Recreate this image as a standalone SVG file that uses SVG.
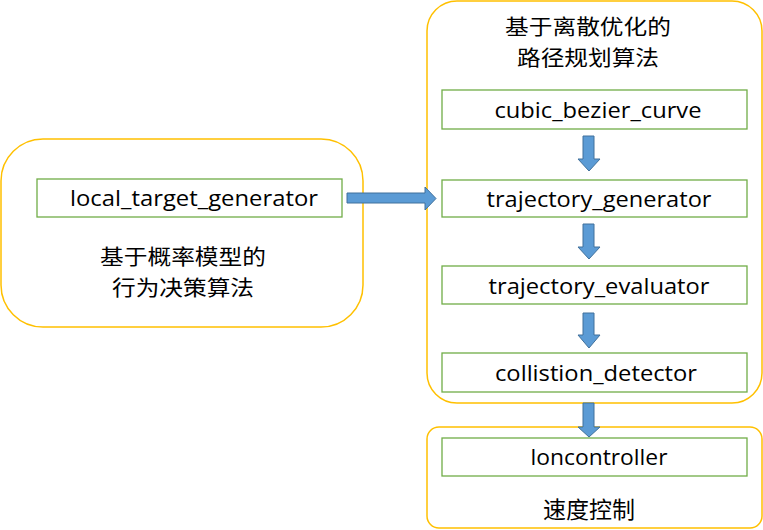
<svg xmlns="http://www.w3.org/2000/svg" width="763" height="530" viewBox="0 0 763 530">
<style>
.cont{fill:#fff;stroke:#FFC000;stroke-width:1.5}
.box{fill:#fff;stroke:#70AD47;stroke-width:1.3}
.lbl{font-family:"Open Sans","Liberation Sans",sans-serif;font-size:21px;fill:#000;text-anchor:middle}
.zh{font-family:"Noto Sans CJK SC",sans-serif;font-size:21px;fill:#000;text-anchor:middle}
.zhs{font-family:"Noto Sans CJK SC",sans-serif;font-size:23px;fill:#000;text-anchor:middle}
.arr{fill:#5B9BD5;stroke:#41719C;stroke-width:1}
</style>
<rect width="763" height="530" fill="#fff"/>
<g id="left-group">
<rect class="cont" x="1" y="139" width="362" height="188" rx="42"/>
<text class="zh" x="183" y="263.5" textLength="166" lengthAdjust="spacingAndGlyphs">基于概率模型的</text>
<text class="zh" x="183" y="294.5" textLength="142" lengthAdjust="spacingAndGlyphs">行为决策算法</text>
</g>
<g id="local_target_generator">
<rect class="box" x="37" y="179" width="305" height="38"/>
<text class="lbl" x="194" y="206" textLength="248" lengthAdjust="spacingAndGlyphs">local_target_generator</text>
</g>
<g id="right-group">
<rect class="cont" x="427" y="1" width="335" height="402" rx="30"/>
<text class="zh" x="588" y="33.5" textLength="166" lengthAdjust="spacingAndGlyphs">基于离散优化的</text>
<text class="zh" x="588" y="64.5" textLength="142" lengthAdjust="spacingAndGlyphs">路径规划算法</text>
</g>
<g id="speed-group">
<rect class="cont" x="427" y="427" width="335" height="101" rx="12"/>
<text class="zhs" x="589" y="518">速度控制</text>
</g>
<g id="cubic_bezier_curve">
<rect class="box" x="442" y="90" width="305" height="39"/>
<text class="lbl" x="598" y="118" textLength="207" lengthAdjust="spacingAndGlyphs">cubic_bezier_curve</text>
</g>
<g id="trajectory_generator">
<rect class="box" x="442" y="180" width="305" height="37"/>
<text class="lbl" x="599" y="207" textLength="225" lengthAdjust="spacingAndGlyphs">trajectory_generator</text>
</g>
<g id="trajectory_evaluator">
<rect class="box" x="442" y="266" width="305" height="38"/>
<text class="lbl" x="599" y="294" textLength="221" lengthAdjust="spacingAndGlyphs">trajectory_evaluator</text>
</g>
<g id="collistion_detector">
<rect class="box" x="442" y="353" width="305" height="39"/>
<text class="lbl" x="596" y="381" textLength="202" lengthAdjust="spacingAndGlyphs">collistion_detector</text>
</g>
<g id="loncontroller">
<rect class="box" x="442" y="438" width="305" height="38"/>
<text class="lbl" x="599" y="465" textLength="137" lengthAdjust="spacingAndGlyphs">loncontroller</text>
</g>
<g id="connectors">
<path class="arr" d="M347,193 H425 V187 L436,198.5 L425,210 V203 H347 Z"/>
<path class="arr" d="M583,136 H594 V159 H600 L589,171 L578,159 H583 Z"/>
<path class="arr" d="M583,224 H594 V247 H600 L589,259 L578,247 H583 Z"/>
<path class="arr" d="M583,313 H594 V335 H600 L589,348 L578,335 H583 Z"/>
<path class="arr" d="M583,403 H594 V427 H600 L589,437 L578,427 H583 Z"/>
</g>
</svg>
